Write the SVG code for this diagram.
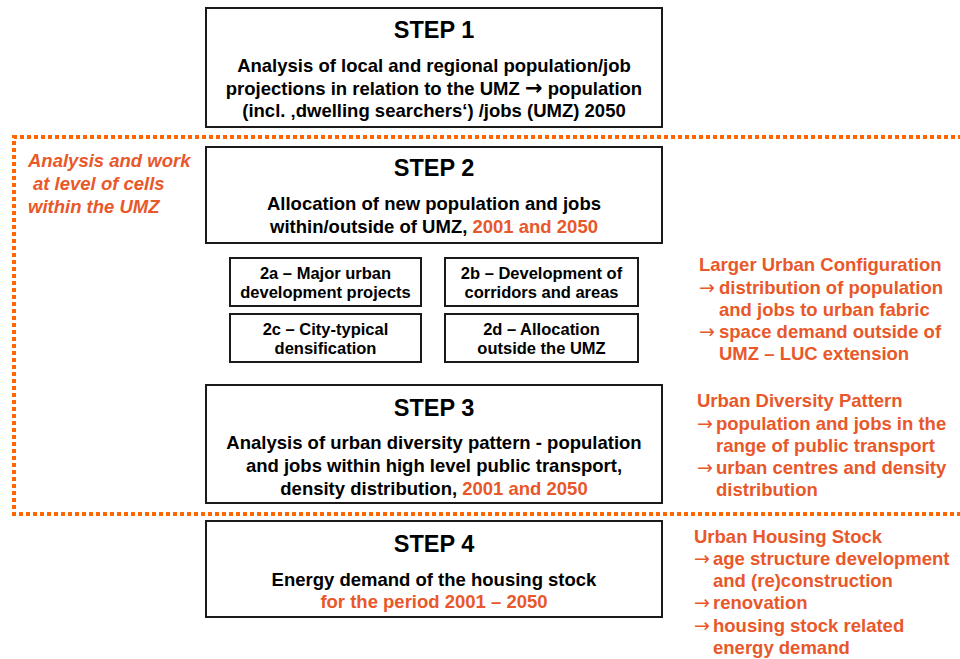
<svg xmlns="http://www.w3.org/2000/svg" width="960" height="659" viewBox="0 0 960 659">
<style>
.box{fill:#fff;stroke:#1a1a1a;stroke-width:2}
.t{font-family:"Liberation Sans",Arial,sans-serif;font-weight:bold;fill:#000;text-anchor:middle}
.h{font-size:23.5px}
.b{font-size:18.5px}
.s{font-size:16.5px}
.o{fill:#E8582A}
.r{font-family:"Liberation Sans",Arial,sans-serif;font-weight:bold;font-size:18.5px;fill:#E8582A}
.i{font-style:italic}
.a{font-family:"DejaVu Sans",sans-serif;font-weight:normal;font-size:19px}
.ab{font-family:"DejaVu Sans",sans-serif;font-weight:bold;font-size:21px}
.dot{fill:none;stroke:#FF6600;stroke-width:4;stroke-dasharray:4 3}
</style>
<rect width="960" height="659" fill="#fff"/>
<g id="zone">
<path class="dot" d="M962 137 H14 V514 H962"/>
<text class="r i"><tspan x="28" y="167">Analysis and work</tspan><tspan x="33" y="190">at level of cells</tspan><tspan x="28" y="213">within the UMZ</tspan></text>
</g>
<g id="connectors"></g>
<g id="step1">
<rect class="box" x="206" y="8" width="456" height="119"/>
<text class="t h" x="434" y="38">STEP 1</text>
<text class="t b"><tspan x="434" y="72">Analysis of local and regional population/job</tspan><tspan x="434" y="95">projections in relation to the UMZ <tspan class="ab">→</tspan> population</tspan><tspan x="434" y="117">(incl. ‚dwelling searchers‘) /jobs (UMZ) 2050</tspan></text>
</g>
<g id="step2">
<rect class="box" x="206" y="147" width="456" height="96"/>
<text class="t h" x="434" y="176">STEP 2</text>
<text class="t b"><tspan x="434" y="210">Allocation of new population and jobs</tspan><tspan x="434" y="233">within/outside of UMZ, <tspan class="o">2001 and 2050</tspan></tspan></text>
</g>
<g id="step2a">
<rect class="box" x="230" y="258" width="191" height="48"/>
<text class="t s"><tspan x="325.5" y="279">2a – Major urban</tspan><tspan x="325.5" y="298">development projects</tspan></text>
</g>
<g id="step2b">
<rect class="box" x="445" y="258" width="193" height="48"/>
<text class="t s"><tspan x="541.5" y="279">2b – Development of</tspan><tspan x="541.5" y="298">corridors and areas</tspan></text>
</g>
<g id="step2c">
<rect class="box" x="230" y="314" width="191" height="48"/>
<text class="t s"><tspan x="325.5" y="335">2c – City-typical</tspan><tspan x="325.5" y="354">densification</tspan></text>
</g>
<g id="step2d">
<rect class="box" x="445" y="314" width="193" height="48"/>
<text class="t s"><tspan x="541.5" y="335">2d – Allocation</tspan><tspan x="541.5" y="354">outside the UMZ</tspan></text>
</g>
<g id="step3">
<rect class="box" x="206" y="385" width="456" height="118"/>
<text class="t h" x="434" y="416">STEP 3</text>
<text class="t b"><tspan x="434" y="449">Analysis of urban diversity pattern - population</tspan><tspan x="434" y="472">and jobs within high level public transport,</tspan><tspan x="434" y="495">density distribution, <tspan class="o">2001 and 2050</tspan></tspan></text>
</g>
<g id="step4">
<rect class="box" x="206" y="521" width="456" height="96"/>
<text class="t h" x="434" y="552">STEP 4</text>
<text class="t b"><tspan x="434" y="586">Energy demand of the housing stock</tspan><tspan class="o" x="434" y="608">for the period 2001 – 2050</tspan></text>
</g>
<g id="note-luc">
<text class="r"><tspan x="699" y="271">Larger Urban Configuration</tspan><tspan class="a" x="699" y="294">→</tspan><tspan x="719" y="294">distribution of population</tspan><tspan x="719" y="316">and jobs to urban fabric</tspan><tspan class="a" x="699" y="338">→</tspan><tspan x="719" y="338">space demand outside of</tspan><tspan x="719" y="360">UMZ – LUC extension</tspan></text>
</g>
<g id="note-udp">
<text class="r"><tspan x="697" y="407">Urban Diversity Pattern</tspan><tspan class="a" x="697" y="430">→</tspan><tspan x="716" y="430">population and jobs in the</tspan><tspan x="716" y="452">range of public transport</tspan><tspan class="a" x="697" y="474">→</tspan><tspan x="716" y="474">urban centres and density</tspan><tspan x="716" y="496">distribution</tspan></text>
</g>
<g id="note-uhs">
<text class="r"><tspan x="694" y="543">Urban Housing Stock</tspan><tspan class="a" x="694" y="565">→</tspan><tspan x="713" y="565">age structure development</tspan><tspan x="713" y="587">and (re)construction</tspan><tspan class="a" x="694" y="609">→</tspan><tspan x="713" y="609">renovation</tspan><tspan class="a" x="694" y="632">→</tspan><tspan x="713" y="632">housing stock related</tspan><tspan x="713" y="654">energy demand</tspan></text>
</g>
</svg>
